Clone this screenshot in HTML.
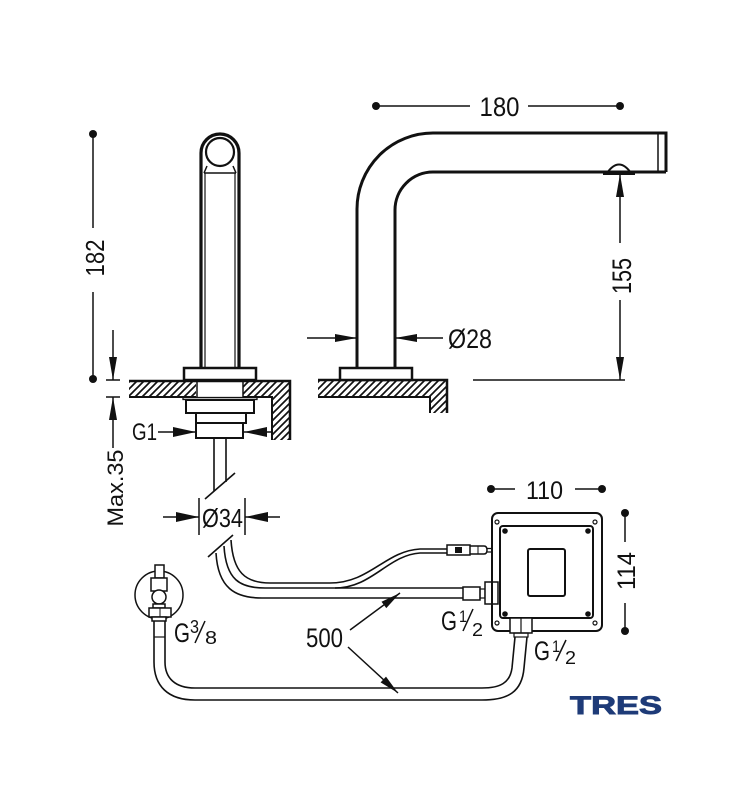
<!DOCTYPE html>
<html><head><meta charset="utf-8"><style>html,body{margin:0;padding:0;background:#fff;}svg{display:block}</style></head>
<body>
<svg width="750" height="800" viewBox="0 0 750 800" xmlns="http://www.w3.org/2000/svg" font-family="'Liberation Sans', sans-serif">
<defs>
<pattern id="h" patternUnits="userSpaceOnUse" width="7" height="7">
<path d="M0,7 L7,0 M-3.5,3.5 L3.5,-3.5 M3.5,10.5 L10.5,3.5" stroke="#111" stroke-width="1.7"/>
</pattern>
</defs>
<rect width="750" height="800" fill="#fff"/>

<!-- hatched slabs -->
<g fill="url(#h)" stroke="none">
<rect x="129" y="381" width="67" height="16"/>
<rect x="243" y="381" width="47" height="16"/>
<rect x="272" y="397" width="18" height="43"/>
<rect x="318" y="380" width="129" height="17"/>
<rect x="430" y="397" width="17" height="16"/>
</g>

<g fill="none" stroke="#111" stroke-linecap="butt">
<!-- slab outlines front -->
<path d="M129 381 L290 381 L290 440" stroke-width="2.5"/>
<path d="M129 397 L196 397 M243 397 L272 397 L272 440" stroke-width="2"/>
<!-- slab outlines side -->
<path d="M318 380 L447 380 L447 413" stroke-width="2.5"/>
<path d="M318 397 L430 397 L430 413" stroke-width="2"/>

<!-- front faucet -->
<path d="M201 368 L201 153 A19 19 0 0 1 239 153 L239 368" stroke-width="3.2"/>
<circle cx="220" cy="152" r="14" stroke-width="2.2"/>
<path d="M205 173 L205 368 M235 173 L235 368" stroke-width="1.2"/>
<path d="M204 173 L236 173 M204 173 L207 166 M236 173 L233 166" stroke-width="1.5"/>
<rect x="184" y="368" width="72" height="12" stroke-width="2.5" fill="#fff"/>
<path d="M197 381 L197 397 M243 381 L243 397" stroke-width="1.5"/>
<rect x="183" y="397.5" width="74" height="2" stroke-width="1.3"/>
<rect x="186" y="400" width="68" height="13" stroke-width="2"/>
<rect x="196" y="413" width="50" height="10" stroke-width="2"/>
<rect x="196" y="423" width="47" height="15" stroke-width="2"/>
<!-- pipe down -->
<path d="M214 438 L214 491 M226 438 L226 482" stroke-width="1.6"/>
<path d="M205 499 L235 473" stroke-width="1.6"/>
<path d="M208 557 L233 535" stroke-width="1.6"/>

<!-- side spout -->
<path d="M357 368 L357 209 A76 76 0 0 1 433 133 L666 133 L666 172" stroke-width="3"/>
<path d="M395 368 L395 210 A38 38 0 0 1 433 172 L666 172" stroke-width="3"/>
<path d="M658 133 L658 172" stroke-width="1.5"/>
<path d="M603 174 L635 174" stroke-width="2"/>
<path d="M607 173 Q619 156 631 173" stroke-width="2"/>
<rect x="340" y="368" width="72" height="12" stroke-width="2.5" fill="#fff"/>

<!-- dimension lines -->
<g stroke-width="1.5">
<path d="M93 134 L93 228 M93 292 L93 379"/>
<path d="M376 106 L470 106 M528 106 L620 106"/>
<path d="M620 174 L620 243 M620 300 L620 380"/>
<path d="M473 380 L625 380"/>
<path d="M307 338 L357 338 M395 338 L443 338"/>
<path d="M113 330 L113 380 M106 380 L120 380 M106 397 L120 397 M113 397 L113 448"/>
<path d="M158 432 L196 432 M244 432 L272 432"/>
<path d="M163 517 L199 517 M245 517 L280 517"/>
<path d="M199 498 L199 535 M245 498 L245 535"/>
<path d="M491 489 L515 489 M575 489 L602 489"/>
<path d="M625 513 L625 542 M625 603 L625 631"/>
<path d="M350 630 L400 593 M348 647 L398 693"/>
</g>

<!-- hoses from faucet -->
<g stroke-width="1.6">
<path d="M216 553 C218 588 235 598 262 598 L463 598"/>
<path d="M224 546 C226 580 240 588 265 588 L463 588"/>
<path d="M231 540 C233 572 245 583 270 583 L330 583 C370 583 385 551 420 549 L447 549"/>
<path d="M335 588 C372 588 388 555 420 553 L447 553"/>
<path d="M487 548.5 L492 548.5 M487 552 L492 552" stroke-width="1.2"/>
</g>

<!-- sensor connector -->
<rect x="447" y="545" width="23" height="10" stroke-width="1.5"/>
<rect x="455" y="547" width="7" height="6" fill="#111" stroke="none"/>
<path d="M470 546 L484 546 Q487 546 487 550 Q487 554 484 554 L470 554" stroke-width="1.5"/>
<path d="M478 546 L478 554" stroke-width="1"/>

<!-- hose end fitting side -->
<rect x="463" y="587" width="17" height="13" stroke-width="1.5" fill="#fff"/>
<rect x="480" y="589" width="5" height="9" stroke-width="1.2"/>
<rect x="485" y="582" width="13" height="22" stroke-width="1.5" fill="#fff"/>
<path d="M492 582 L492 604" stroke-width="1"/>

<!-- box -->
<rect x="492" y="513" width="110" height="118" rx="6" stroke-width="2"/>
<rect x="500" y="526" width="93" height="92" rx="3" stroke-width="2"/>
<rect x="528" y="549" width="37" height="47" rx="2" stroke-width="2"/>
<g stroke-width="1.2">
<circle cx="497" cy="522" r="2"/><circle cx="595" cy="522" r="2"/>
<circle cx="497" cy="623" r="2"/><circle cx="595" cy="623" r="2"/>
</g>
<g fill="#111" stroke="none">
<circle cx="505" cy="531" r="2.8"/><circle cx="588" cy="531" r="2.8"/>
<circle cx="505" cy="614" r="2.8"/><circle cx="588" cy="614" r="2.8"/>
</g>
<!-- bottom fitting -->
<rect x="510" y="618" width="22" height="15" stroke-width="1.5" fill="#fff"/>
<path d="M521 618 L521 633" stroke-width="1.2"/>
<rect x="514" y="633" width="14" height="4" stroke-width="1.2"/>

<!-- lower hose -->
<g stroke-width="1.6">
<path d="M527 637 L524 668 C522 692 508 700 482 700 L195 700 C168 700 154 686 154 662 L154 620"/>
<path d="M515 637 L512 668 C510 683 500 688 482 688 L195 688 C175 688 165 678 165 662 L165 620"/>
<path d="M154 637 L165 637" stroke-width="1.2"/>
</g>

<!-- valve -->
<circle cx="159" cy="595" r="24" stroke-width="1.5"/>
<g stroke-width="1.5" fill="#fff">
<rect x="155" y="565" width="9" height="13"/>
<rect x="151" y="578" width="16" height="13"/>
<circle cx="159" cy="597" r="7"/>
<rect x="153" y="604" width="12" height="4"/>
<rect x="149" y="608" width="22" height="9"/>
<rect x="152" y="617" width="14" height="4"/>
</g>
<path d="M160 608 L160 617" stroke-width="1"/>

<!-- fraction slashes -->
<path d="M463 631 L473 609" stroke-width="1.5"/>
<path d="M556 661 L566 640" stroke-width="1.5"/>
<path d="M195 643 L205 621" stroke-width="1.5"/>
</g>

<!-- dots -->
<g fill="#111">
<circle cx="93" cy="134" r="4"/><circle cx="93" cy="379" r="4"/>
<circle cx="376" cy="106" r="4"/><circle cx="620" cy="106" r="4"/>
<circle cx="491" cy="489" r="4"/><circle cx="602" cy="489" r="4"/>
<circle cx="625" cy="513" r="4"/><circle cx="625" cy="631" r="4"/>
</g>

<!-- arrowheads -->
<g fill="#111" stroke="none">
<polygon points="113,380 109,357 117,357"/>
<polygon points="113,397 109,420 117,420"/>
<polygon points="357,338 335,334 335,342"/>
<polygon points="395,338 417,334 417,342"/>
<polygon points="620,174 616,197 624,197"/>
<polygon points="620,380 616,357 624,357"/>
<polygon points="196,432 173,427 173,437"/>
<polygon points="244,432 267,427 267,437"/>
<polygon points="199,517 176,512 176,522"/>
<polygon points="245,517 268,512 268,522"/>
<polygon points="400,593 386.3,608.1 381.5,601.7"/>
<polygon points="398,693 380.6,682.4 386.0,676.6"/>
</g>

<!-- labels -->
<g fill="#111" stroke="none" font-size="27">
<text x="499.5" y="116" text-anchor="middle" textLength="40" lengthAdjust="spacingAndGlyphs">180</text>
<text x="448" y="348" textLength="44" lengthAdjust="spacingAndGlyphs">Ø28</text>
<text transform="translate(104,258) rotate(-90)" text-anchor="middle" font-size="26" textLength="37" lengthAdjust="spacingAndGlyphs">182</text>
<text transform="translate(631,276) rotate(-90)" text-anchor="middle" textLength="36" lengthAdjust="spacingAndGlyphs">155</text>
<text transform="translate(123,488) rotate(-90)" text-anchor="middle" font-size="22" textLength="77" lengthAdjust="spacingAndGlyphs">Max.35</text>
<text x="132" y="440" font-size="24" textLength="25" lengthAdjust="spacingAndGlyphs">G1</text>
<text x="202" y="527" font-size="26" textLength="41" lengthAdjust="spacingAndGlyphs">Ø34</text>
<text x="544.5" y="499" text-anchor="middle" font-size="25" textLength="37" lengthAdjust="spacingAndGlyphs">110</text>
<text transform="translate(635,571) rotate(-90)" text-anchor="middle" font-size="25" textLength="38" lengthAdjust="spacingAndGlyphs">114</text>
<text x="306" y="647" textLength="37" lengthAdjust="spacingAndGlyphs">500</text>
<!-- G1/2 left -->
<text x="441" y="630" font-size="27" textLength="16" lengthAdjust="spacingAndGlyphs">G</text>
<text x="459" y="622" font-size="17" textLength="8" lengthAdjust="spacingAndGlyphs">1</text>
<text x="472" y="636" font-size="18" textLength="11" lengthAdjust="spacingAndGlyphs">2</text>
<!-- G1/2 right -->
<text x="534" y="660" font-size="27" textLength="16" lengthAdjust="spacingAndGlyphs">G</text>
<text x="552" y="652" font-size="17" textLength="8" lengthAdjust="spacingAndGlyphs">1</text>
<text x="565" y="664" font-size="18" textLength="11" lengthAdjust="spacingAndGlyphs">2</text>
<!-- G3/8 -->
<text x="174" y="642" font-size="27" textLength="16" lengthAdjust="spacingAndGlyphs">G</text>
<text x="190" y="633" font-size="18" textLength="9" lengthAdjust="spacingAndGlyphs">3</text>
<text x="205" y="644" font-size="18" textLength="12" lengthAdjust="spacingAndGlyphs">8</text>
</g>

<!-- logo -->
<text x="570" y="714" fill="#1e3b78" stroke="#1e3b78" stroke-width="0.9" font-size="25" font-weight="bold" textLength="92" lengthAdjust="spacingAndGlyphs">TRES</text>
</svg>
</body></html>
